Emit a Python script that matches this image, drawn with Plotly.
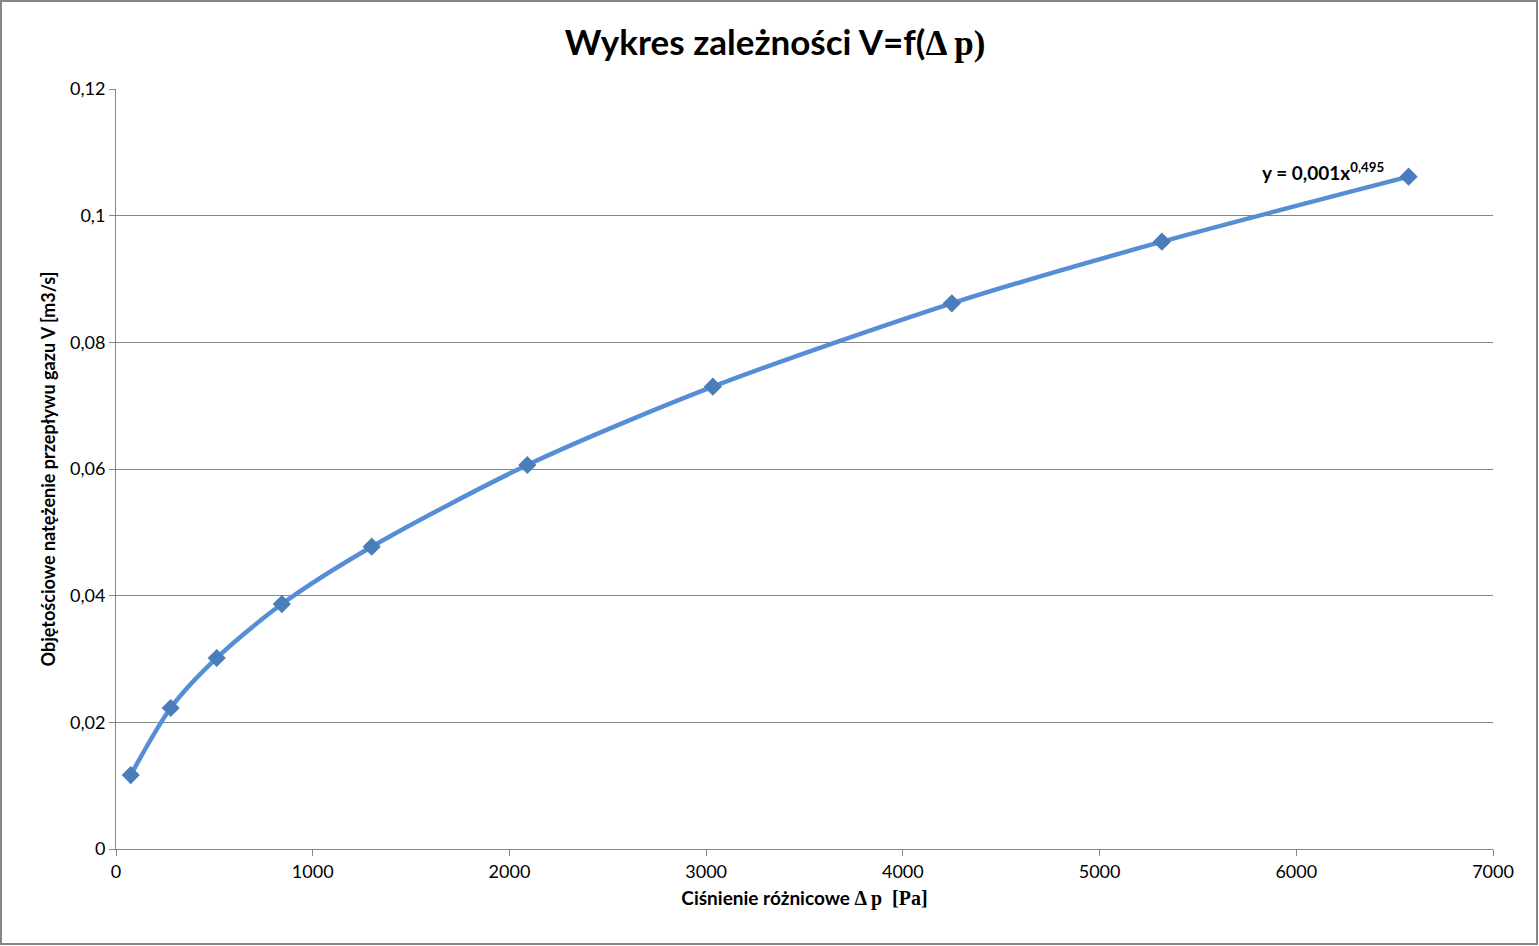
import plotly.graph_objects as go

# Data
dp = [75, 278, 512, 843, 1300, 2091, 3034, 4249, 5317, 6571]
V = [0.01168, 0.02226, 0.03016, 0.03868, 0.04773, 0.06063, 0.07300, 0.08616, 0.09589, 0.10616]

x_ticks = [0, 1000, 2000, 3000, 4000, 5000, 6000, 7000]
x_ticklabels = ["0", "1000", "2000", "3000", "4000", "5000", "6000", "7000"]
y_ticks = [0, 0.02, 0.04, 0.06, 0.08, 0.10, 0.12]
y_ticklabels = ["0", "0,02", "0,04", "0,06", "0,08", "0,1", "0,12"]

FONT = "Lato"
SERIF = "Liberation Serif"
GRID = "#868686"

fig = go.Figure()
fig.add_trace(go.Scatter(
    x=dp, y=V, mode="lines+markers",
    line=dict(color="#558ED5", width=4.5, shape="spline", smoothing=0.8),
    marker=dict(symbol="diamond", size=14, color="#4A7EBB"),
    showlegend=False, hoverinfo="x+y",
))

fig.update_layout(
    width=1539, height=946,
    margin=dict(l=116, r=46, t=89, b=97),
    paper_bgcolor="white", plot_bgcolor="white",
    font=dict(family=FONT, color="black", size=18),
    title=dict(
        text=("<b>Wykres zależności V=f(</b><span style=\"font-family:'%s'\"><b>Δ p)</b></span>" % SERIF),
        x=0.4786, xref="paper", xanchor="center",
        y=1 - 43 / 946, yref="container", yanchor="middle",
        font=dict(family=FONT, size=35, color="black"),
    ),
    xaxis=dict(
        range=[0, 7000], tickvals=x_ticks, ticktext=x_ticklabels,
        showgrid=False, zeroline=False,
        showline=True, linecolor=GRID, linewidth=1,
        ticks="outside", ticklen=6, tickcolor=GRID,
        tickfont=dict(family=FONT, size=18),
        title=dict(
            text=("<b>Ciśnienie różnicowe </b><span style=\"font-family:'%s';font-size:20px\"><b>Δ p  [Pa]</b></span>" % SERIF),
            font=dict(family=FONT, size=19), standoff=11,
        ),
    ),
    yaxis=dict(
        range=[0, 0.12], tickvals=y_ticks, ticktext=y_ticklabels,
        showgrid=True, gridcolor=GRID, gridwidth=1, zeroline=False,
        showline=True, linecolor=GRID, linewidth=1,
        ticks="outside", ticklen=6, tickcolor=GRID,
        tickfont=dict(family=FONT, size=18),
        title=dict(
            text="<b>Objętościowe natężenie przepływu gazu V [m3/s]</b>",
            font=dict(family=FONT, size=18), standoff=9,
        ),
    ),
)

fig.add_annotation(
    x=6138, y=0.1069, xref="x", yref="y",
    text="<b>y = 0,001x<sup>0,495</sup></b>",
    showarrow=False, xanchor="center", yanchor="middle",
    font=dict(family=FONT, size=19, color="black"),
)

# outer chart border
fig.add_shape(
    type="rect", xref="paper", yref="paper",
    x0=(1 - 116) / 1377, x1=(1537 - 116) / 1377,
    y0=(849 - 944) / 760, y1=(849 - 1) / 760,
    line=dict(color=GRID, width=2), fillcolor="rgba(0,0,0,0)", layer="below",
)

fig.write_html("out.html")
